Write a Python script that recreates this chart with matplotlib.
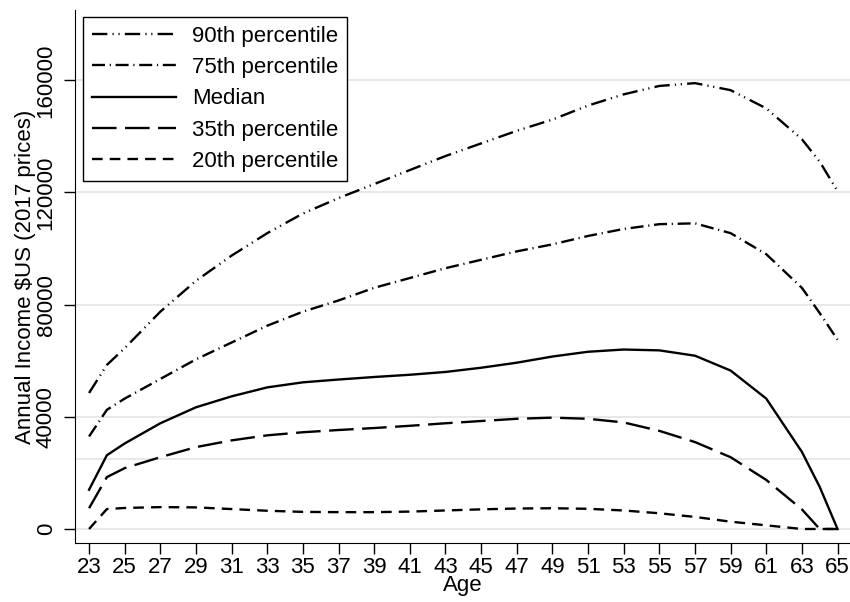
import matplotlib
matplotlib.use("Agg")
import matplotlib.pyplot as plt

ages = [23, 24, 25, 27, 29, 31, 33, 35, 37, 39, 41, 43, 45, 47, 49, 51, 53, 55, 57, 59, 61, 63, 64, 65]

p90 = [48500, 58500, 64500, 77500, 88500, 97500, 105500, 112500, 118000, 123000, 128000, 133000,
       137500, 142000, 146000, 151000, 155000, 158000, 159000, 156500, 150000, 139000, 131000, 120500]
p75 = [33000, 42500, 46500, 53500, 60500, 66500, 72500, 77500, 81500, 86000, 89500, 93000,
       96000, 99000, 101500, 104500, 107000, 108700, 109000, 105500, 98000, 86000, 77000, 67500]
median = [14000, 26300, 30500, 37700, 43400, 47300, 50500, 52300, 53300, 54200, 55000, 56000,
          57500, 59300, 61500, 63200, 64000, 63700, 61800, 56500, 46500, 27500, 15000, 0]
p35 = [7400, 18500, 21700, 25600, 29200, 31600, 33400, 34500, 35300, 36000, 36800, 37700,
       38500, 39300, 39700, 39300, 38000, 35000, 31000, 25600, 17500, 7000, 0, 0]
p20 = [0, 7100, 7500, 7800, 7700, 7100, 6500, 6100, 6000, 6000, 6200, 6600,
       7000, 7300, 7400, 7200, 6600, 5600, 4300, 2600, 1300, 0, 0, 0]

series = [
    ("90th percentile", p90, (0, (6.5, 2.2, 0.5, 2.0, 0.5, 2.2))),
    ("75th percentile", p75, (0, (5.5, 2.0, 0.5, 2.0))),
    ("Median", median, "-"),
    ("35th percentile", p35, (0, (10.4, 3.6))),
    ("20th percentile", p20, (0, (4.5, 3.0))),
]

x_ticks = list(range(23, 66, 2))
y_ticks = [0, 40000, 80000, 120000, 160000]
grid_lines = [0, 25000, 40000, 80000, 120000, 160000]

plt.rcParams["font.family"] = ["Liberation Sans", "DejaVu Sans"]

fig = plt.figure(figsize=(8.5, 6.02), dpi=100)
ax = fig.add_axes([0.088, 0.098, 0.912, 0.885])

for g in grid_lines:
    ax.axhline(g, color="#e4e4e4", lw=1.2, zorder=0)

for label, vals, ls in series:
    ax.plot(ages, vals, color="black", lw=1.7, linestyle=ls, label=label)

ax.set_xlim(22.2, 65.7)
ax.set_ylim(-5000, 185000)
ax.set_xticks(x_ticks)
ax.set_yticks(y_ticks)
ax.set_yticklabels([str(v) for v in y_ticks], rotation=90, va="center")
ax.tick_params(axis="x", labelsize=16, length=8, width=1, direction="out", pad=2)
ax.tick_params(axis="y", labelsize=16, length=8, width=1, direction="out", pad=5)
ax.spines["top"].set_visible(False)
ax.spines["right"].set_visible(False)
ax.set_xlabel("Age", fontsize=16, labelpad=-2)
ax.set_ylabel("Annual Income $US (2017 prices)", fontsize=16, labelpad=0)

leg = ax.legend(loc="upper left", bbox_to_anchor=(0.0103, 0.987), fontsize=16,
                handlelength=3.8, handletextpad=0.7, labelspacing=0.46,
                borderaxespad=0, borderpad=0.4, fancybox=False, framealpha=1,
                edgecolor="black")
leg.get_frame().set_linewidth(1.0)

fig.savefig("out.png", dpi=100)
